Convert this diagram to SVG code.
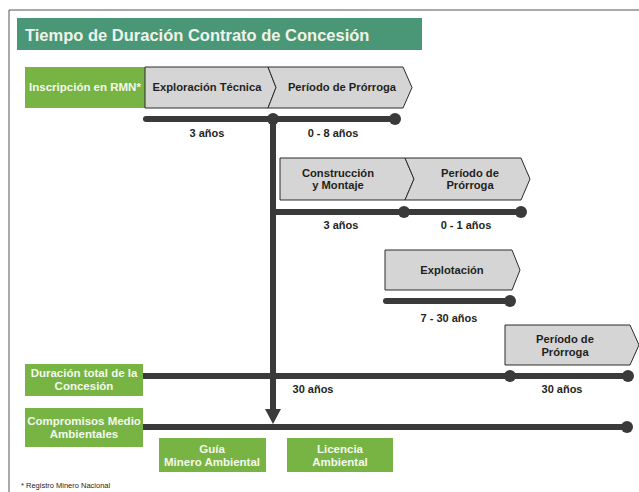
<svg xmlns="http://www.w3.org/2000/svg" width="639" height="492" viewBox="0 0 639 492">
<defs>
<style>
.frame{fill:none;stroke:#555;stroke-width:1}
.gbox{fill:#77b443}
.gt{fill:#f4f8ee;font-family:"Liberation Sans",Arial,sans-serif;font-weight:bold;font-size:11.5px;text-anchor:middle}
.chev{fill:#d5d5d5;stroke:#2b2b2b;stroke-width:1}
.ct{fill:#231f20;font-family:"Liberation Sans",Arial,sans-serif;font-weight:bold;font-size:11.2px;text-anchor:middle}
.line{stroke:#3a3a3a;stroke-width:6;fill:none}
.dot{fill:#3a3a3a}
.lbl{fill:#231f20;font-family:"Liberation Sans",Arial,sans-serif;font-weight:bold;font-size:11px;text-anchor:middle}
</style>
</defs>
<rect width="639" height="492" fill="#fff"/>
<path class="frame" d="M9,492 V10 H639"/>
<g id="title">
<rect x="17" y="18" width="405" height="32" fill="#4a9777"/>
<text x="25" y="41" fill="#eef4ea" font-family="'Liberation Sans',Arial,sans-serif" font-weight="bold" font-size="16.5px">Tiempo de Duración Contrato de Concesión</text>
</g>
<g id="connectors">
<line class="line" x1="146" y1="119" x2="395" y2="119" stroke-linecap="round"/>
<line class="line" x1="273" y1="212" x2="521" y2="212"/>
<line class="line" x1="386" y1="301" x2="510" y2="301" stroke-linecap="round"/>
<line class="line" x1="143" y1="376" x2="628" y2="376"/>
<line class="line" x1="143" y1="427" x2="627" y2="427"/>
<line class="line" x1="273" y1="119" x2="273" y2="410"/>
<path d="M265,409 L281,409 L273,424 Z" fill="#3a3a3a"/>
<circle class="dot" cx="273" cy="119" r="6"/>
<circle class="dot" cx="395" cy="119" r="6"/>
<circle class="dot" cx="404" cy="212" r="6"/>
<circle class="dot" cx="521" cy="212" r="6"/>
<circle class="dot" cx="510" cy="301" r="6"/>
<circle class="dot" cx="510" cy="376" r="6"/>
<circle class="dot" cx="628" cy="376" r="6"/>
<circle class="dot" cx="627" cy="427" r="6"/>
<text class="lbl" x="207" y="137">3 años</text>
<text class="lbl" x="333" y="137">0 - 8 años</text>
<text class="lbl" x="341" y="229">3 años</text>
<text class="lbl" x="466" y="229">0 - 1 años</text>
<text class="lbl" x="449" y="322">7 - 30 años</text>
<text class="lbl" x="313" y="393">30 años</text>
<text class="lbl" x="562" y="393">30 años</text>
</g>
<g id="inscripcion">
<rect class="gbox" x="25" y="67" width="120" height="41"/>
<text class="gt" x="85" y="91">Inscripción en RMN*</text>
</g>
<g id="exploracion">
<path class="chev" d="M145,67 H268 L276,87.5 L268,108 H145 Z"/>
<text class="ct" x="207" y="91">Exploración Técnica</text>
</g>
<g id="prorroga1">
<path class="chev" d="M268,67 H403 L412,87.5 L403,108 H268 L276,87.5 Z"/>
<text class="ct" x="342" y="91">Período de Prórroga</text>
</g>
<g id="construccion">
<path class="chev" d="M280,158 H405 L414,179 L405,200 H280 Z"/>
<text class="ct" x="338" y="177">Construcción</text>
<text class="ct" x="338" y="189">y Montaje</text>
</g>
<g id="prorroga2">
<path class="chev" d="M405,158 H521 L530,179 L521,200 H405 L414,179 Z"/>
<text class="ct" x="470" y="177">Período de</text>
<text class="ct" x="470" y="189">Prórroga</text>
</g>
<g id="explotacion">
<path class="chev" d="M385,250 H512 L520,270 L512,290 H385 Z"/>
<text class="ct" x="452" y="274">Explotación</text>
</g>
<g id="prorroga3">
<path class="chev" d="M505,325 H630 L639,345 L630,365 H505 Z"/>
<text class="ct" x="565" y="343">Período de</text>
<text class="ct" x="565" y="356">Prórroga</text>
</g>
<g id="duracion">
<rect class="gbox" x="25" y="364" width="118" height="32"/>
<text class="gt" x="84" y="377">Duración total de la</text>
<text class="gt" x="84" y="390">Concesión</text>
</g>
<g id="compromisos">
<rect class="gbox" x="25" y="408" width="118" height="39"/>
<text class="gt" x="84" y="425">Compromisos Medio</text>
<text class="gt" x="84" y="438">Ambientales</text>
</g>
<g id="guia">
<rect class="gbox" x="159" y="438" width="107" height="34"/>
<text class="gt" x="212" y="453">Guía</text>
<text class="gt" x="212" y="466">Minero Ambiental</text>
</g>
<g id="licencia">
<rect class="gbox" x="287" y="438" width="106" height="34"/>
<text class="gt" x="340" y="453">Licencia</text>
<text class="gt" x="340" y="466">Ambiental</text>
</g>
<text x="21" y="488" fill="#231f20" font-family="'Liberation Sans',Arial,sans-serif" font-size="7.5px">* Registro Minero Nacional</text>
</svg>
